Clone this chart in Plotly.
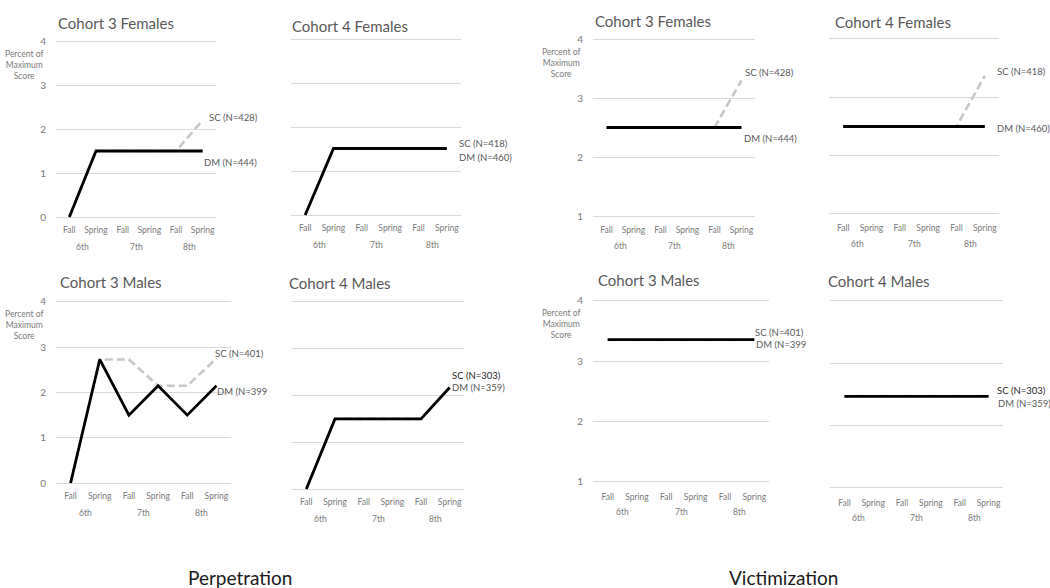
import plotly.graph_objects as go

W, H = 1050, 588

# ---------------- data ----------------
categories = ["Fall", "Spring", "Fall", "Spring", "Fall", "Spring"]
grades = ["6th", "7th", "8th"]
section_labels = ["Perpetration", "Victimization"]

perp_c3_f_dm = [0, 1.5, 1.5, 1.5, 1.5, 1.5]
perp_c3_f_sc = [0, 1.5, 1.5, 1.5, 1.5, 2.2]
perp_c4_f_dm = [0, 1.52, 1.52, 1.52, 1.52, 1.52]
perp_c4_f_sc = [0, 1.52, 1.52, 1.52, 1.52, 1.52]
perp_c3_m_dm = [0, 2.73, 1.5, 2.15, 1.5, 2.15]
perp_c3_m_sc = [0, 2.73, 2.73, 2.15, 2.15, 2.75]
perp_c4_m_dm = [0, 1.5, 1.5, 1.5, 1.5, 2.17]
perp_c4_m_sc = [0, 1.5, 1.5, 1.5, 1.5, 2.17]

vict_c3_f_dm = [2.5, 2.5, 2.5, 2.5, 2.5, 2.5]
vict_c3_f_sc = [2.5, 2.5, 2.5, 2.5, 2.5, 3.3]
vict_c4_f_dm = [2.5, 2.5, 2.5, 2.5, 2.5, 2.5]
vict_c4_f_sc = [2.5, 2.5, 2.5, 2.5, 2.5, 3.37]
vict_c3_m_dm = [3.36, 3.36, 3.36, 3.36, 3.36, 3.36]
vict_c3_m_sc = [3.36, 3.36, 3.36, 3.36, 3.36, 3.36]
vict_c4_m_dm = [2.47, 2.47, 2.47, 2.47, 2.47, 2.47]
vict_c4_m_sc = [2.47, 2.47, 2.47, 2.47, 2.47, 2.47]

perp_ticks = [0, 1, 2, 3, 4]
vict_ticks = [1, 2, 3, 4]

# ---------------- panel layout (styles) ----------------
panels = [
    dict(title="Cohort 3 Females", dm=perp_c3_f_dm, sc=perp_c3_f_sc, dml="DM (N=444)", scl="SC (N=428)",
         yr=(0, 4), ticks=perp_ticks, box=(56, 216, 41, 217), left=True, tdy=18, tdx=0,
         sco=(4, 3), dmo=(-1, -11), dark=False, ytl=3.45),
    dict(title="Cohort 4 Females", dm=perp_c4_f_dm, sc=perp_c4_f_sc, dml="DM (N=460)", scl="SC (N=418)",
         yr=(0, 4), ticks=perp_ticks, box=(291, 461, 40, 215), left=False, tdy=14, tdx=-1,
         sco=(10, 5), dmo=(10, -9), dark=False),
    dict(title="Cohort 3 Males", dm=perp_c3_m_dm, sc=perp_c3_m_sc, dml="DM (N=399", scl="SC (N=401)",
         yr=(0, 4), ticks=perp_ticks, box=(56, 231, 302, 483), left=True, tdy=20, tdx=2,
         sco=(-3, 5), dmo=(-1, -6), dark=False, ytl=3.5),
    dict(title="Cohort 4 Males", dm=perp_c4_m_dm, sc=perp_c4_m_sc, dml="DM (N=359)", scl="SC (N=303)",
         yr=(0, 4), ticks=perp_ticks, box=(292, 464, 302, 489), left=False, tdy=19, tdx=-5,
         sco=(0, 12), dmo=(0, 0), dark=True),
    dict(title="Cohort 3 Females", dm=vict_c3_f_dm, sc=vict_c3_f_sc, dml="DM (N=444)", scl="SC (N=428)",
         yr=(1, 4), ticks=vict_ticks, box=(593, 755, 39, 216), left=True, tdy=18, tdx=0,
         sco=(1, 8), dmo=(0, -11), dark=False, ytl=3.6),
    dict(title="Cohort 4 Females", dm=vict_c4_f_dm, sc=vict_c4_f_sc, dml="DM (N=460)", scl="SC (N=418)",
         yr=(1, 4), ticks=vict_ticks, box=(829, 999, 39, 214), left=False, tdy=17, tdx=4,
         sco=(10, 4), dmo=(10, -2), dark=False),
    dict(title="Cohort 3 Males", dm=vict_c3_m_dm, sc=vict_c3_m_sc, dml="DM (N=399", scl="SC (N=401)",
         yr=(1, 4), ticks=vict_ticks, box=(593, 769, 301, 482), left=True, tdy=21, tdx=3,
         sco=(-1, 7), dmo=(0, -5), dark=False, ytl=3.62),
    dict(title="Cohort 4 Males", dm=vict_c4_m_dm, sc=vict_c4_m_sc, dml="DM (N=359)", scl="SC (N=303)",
         yr=(1, 4), ticks=vict_ticks, box=(830, 1003, 301, 488), left=False, tdy=20, tdx=-4,
         sco=(6, 6), dmo=(7, -7), dark=True),
]

FONT = "Lato, Carlito, 'Liberation Sans', sans-serif"
GRID = "#d9d9d9"
TICK = "#7a7a7a"
TITLE = "#595959"
PAD = 0.1

fig = go.Figure()
layout = dict(width=W, height=H, margin=dict(l=0, r=0, t=0, b=0),
              paper_bgcolor="white", plot_bgcolor="white", showlegend=False,
              font=dict(family=FONT, color=TICK), template="none")
annotations = []
xs = list(range(len(categories)))

for i, p in enumerate(panels):
    n = "" if i == 0 else str(i + 1)
    xa, ya = "x" + n, "y" + n
    l, r, t, b = p["box"]
    ymin, ymax = p["yr"]
    ppu = (b - t) / (ymax - ymin)
    t2, b2 = t - PAD * ppu, b + PAD * ppu

    layout["xaxis" + n] = dict(domain=[l / W, r / W], anchor=ya, range=[-0.5, len(categories) - 0.5],
                               tickvals=xs, ticktext=categories, showgrid=False, zeroline=False,
                               showline=False, ticks="", automargin=False, fixedrange=True,
                               tickfont=dict(size=8.5, color=TICK, family=FONT), ticklabelstandoff=2)
    layout["yaxis" + n] = dict(domain=[1 - b2 / H, 1 - t2 / H], anchor=xa, range=[ymin - PAD, ymax + PAD],
                               tickvals=p["ticks"], showgrid=True, gridcolor=GRID, gridwidth=1,
                               zeroline=False, showline=False, ticks="", automargin=False,
                               showticklabels=p["left"], fixedrange=True,
                               tickfont=dict(size=10, color=TICK, family=FONT), ticklabelstandoff=9)

    fig.add_trace(go.Scatter(x=xs, y=p["sc"], xaxis=xa, yaxis=ya, mode="lines",
                             line=dict(color="#c8c8c8", width=2.6, dash="8px,4px"), hoverinfo="skip"))
    fig.add_trace(go.Scatter(x=xs, y=p["dm"], xaxis=xa, yaxis=ya, mode="lines",
                             line=dict(color="black", width=2.8), hoverinfo="skip"))

    # title
    annotations.append(dict(text=p["title"], xref=xa + " domain", yref=ya, x=0, y=ymax,
                            xanchor="left", yanchor="middle", xshift=p["tdx"], yshift=p["tdy"],
                            showarrow=False, font=dict(size=15, color=TITLE, family=FONT)))
    # grade group labels
    for g, gl in enumerate(grades):
        annotations.append(dict(text=gl, xref=xa, yref=ya, x=2 * g + 0.5, y=ymin, yshift=-30,
                                xanchor="center", yanchor="middle", showarrow=False,
                                font=dict(size=8.5, color=TICK, family=FONT)))
    # series labels
    last = len(categories) - 1
    annotations.append(dict(text=p["scl"], xref=xa, yref=ya, x=last, y=p["sc"][-1],
                            xanchor="left", yanchor="middle", xshift=p["sco"][0], yshift=p["sco"][1],
                            showarrow=False,
                            font=dict(size=9.5, color="#262626" if p["dark"] else TITLE, family=FONT)))
    annotations.append(dict(text=p["dml"], xref=xa, yref=ya, x=last, y=p["dm"][-1],
                            xanchor="left", yanchor="middle", xshift=p["dmo"][0], yshift=p["dmo"][1],
                            showarrow=False, font=dict(size=9.5, color=TITLE, family=FONT)))
    # y-axis title
    if p["left"]:
        annotations.append(dict(text="Percent of<br>Maximum<br>Score", xref=xa + " domain", yref=ya,
                                x=0, y=p["ytl"], xshift=-32, xanchor="center", yanchor="middle",
                                align="center", showarrow=False,
                                font=dict(size=8.5, color=TICK, family=FONT)))

# section labels
for txt, xp in zip(section_labels, [240, 783]):
    annotations.append(dict(text=txt, xref="paper", yref="paper", x=xp / W, y=1 - 577 / H,
                            xanchor="center", yanchor="middle", showarrow=False,
                            font=dict(size=19, color="#1a1a1a", family=FONT)))

layout["annotations"] = annotations
fig.update_layout(**layout)
fig.write_html("out.html", config={"displayModeBar": False},
               post_script="document.body.style.margin='0';document.body.style.overflow='hidden';")
